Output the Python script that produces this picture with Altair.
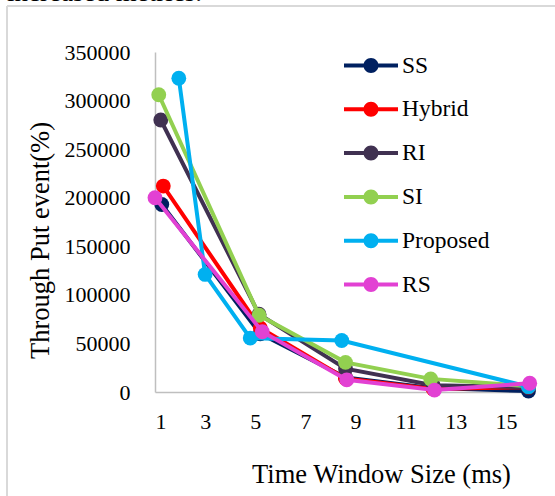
import altair as alt
import pandas as pd

series = ["SS", "Hybrid", "RI", "SI", "Proposed", "RS"]
colors = ["#002060", "#FF0000", "#403151", "#92D050", "#00B0F0", "#E241D3"]

ss_x = [1.27, 5.2, 8.6, 12.1, 15.9]
ss_y = [193000, 60000, 15000, 4000, 1000]
hybrid_x = [1.33, 5.2, 8.6, 12.1, 15.9]
hybrid_y = [212000, 66000, 14000, 3000, 5000]
ri_x = [1.23, 5.15, 8.6, 12.1, 15.9]
ri_y = [280000, 80000, 24000, 7000, 5000]
si_x = [1.15, 5.15, 8.6, 12.0, 15.9]
si_y = [306000, 79000, 30500, 13500, 6000]
proposed_x = [1.95, 3.0, 4.8, 8.45, 15.9]
proposed_y = [323000, 121000, 55500, 53000, 5500]
rs_x = [1.0, 5.28, 8.65, 12.15, 15.95]
rs_y = [200000, 62000, 12500, 2000, 9000]

x_ticks = [1, 3, 5, 7, 9, 11, 13, 15]
y_ticks = [0, 50000, 100000, 150000, 200000, 250000, 300000, 350000]

all_x = [ss_x, hybrid_x, ri_x, si_x, proposed_x, rs_x]
all_y = [ss_y, hybrid_y, ri_y, si_y, proposed_y, rs_y]

rows = []
for name, xs, ys in zip(series, all_x, all_y):
    for i, (xv, yv) in enumerate(zip(xs, ys)):
        rows.append({"series": name, "x": xv, "y": yv, "order": i})
df = pd.DataFrame(rows)

FONT = "Liberation Serif"

xenc = alt.X("x:Q", scale=alt.Scale(domain=[1, 16], nice=False, zero=False),
             axis=alt.Axis(values=x_ticks, title="Time Window Size (ms)",
                           titleX=226, titleY=90, titleBaseline="alphabetic",
                           titleAlign="center", labelPadding=19, labelBaseline="top"))
yenc = alt.Y("y:Q", scale=alt.Scale(domain=[0, 350000], nice=False),
             axis=alt.Axis(values=y_ticks, format="d", title="Through Put event(%)",
                           titleX=-115, titleY=188, titleBaseline="middle",
                           titleAlign="center", labelPadding=25))

legend_path = ("M-1.35,-0.1 L1.35,-0.1 L1.35,0.1 L-1.35,0.1 Z "
               "M-0.375,0 A0.375,0.375 0 1,1 0.375,0 A0.375,0.375 0 1,1 -0.375,0 Z")

color_leg = alt.Color("series:N", scale=alt.Scale(domain=series, range=colors),
                      legend=alt.Legend(title=None, orient="none", legendX=196, legendY=-6.5))

base = alt.Chart(df)
layers = []
for s, c in zip(series, colors):
    sub = base.transform_filter(alt.datum.series == s)
    layers.append(sub.mark_line(strokeWidth=4, color=c).encode(
        x=xenc, y=yenc, order="order:Q"))
    layers.append(sub.mark_circle(size=220, opacity=1).encode(
        x=xenc, y=yenc, color=color_leg))

one = alt.Chart(pd.DataFrame({"a": [0]}))
frame_left = one.mark_rule(color="#D9D9D9", strokeWidth=2).encode(
    x=alt.value(-148), y=alt.value(-46), y2=alt.value(444))
frame_top = one.mark_rule(color="#D9D9D9", strokeWidth=2).encode(
    x=alt.value(-148), x2=alt.value(400), y=alt.value(-46))
top_text = one.mark_text(align="left", baseline="alphabetic", font=FONT,
                         fontSize=27, color="black").encode(
    x=alt.value(-148), y=alt.value(-51), text=alt.value("increased metrics."))

chart = alt.layer(frame_left, frame_top, top_text, *layers).properties(
    width=376, height=340,
    autosize=alt.AutoSizeParams(type="none"),
    padding={"left": 155, "top": 52, "right": 24, "bottom": 104},
).configure_view(stroke=None).configure_axis(
    domainColor="#BFBFBF", domainWidth=1.5, ticks=False, grid=False,
    labelFont=FONT, labelFontSize=22, labelColor="black",
    titleFont=FONT, titleFontSize=26.5, titleFontWeight="normal", titleColor="black",
).configure_legend(
    symbolType=legend_path, symbolSize=1600, symbolStrokeWidth=0, symbolOpacity=1,
    labelFont=FONT, labelFontSize=23.5, labelColor="black",
    labelOffset=11, rowPadding=11.8, padding=0, labelLimit=300,
)

chart.save("out.html", embed_options={"renderer": "svg", "actions": False})
